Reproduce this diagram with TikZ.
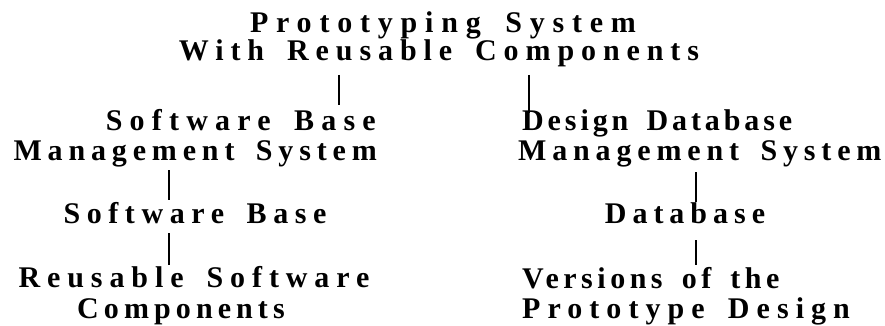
\documentclass[tikz,border=0pt]{standalone}
\usepackage{fontspec}
\newfontfamily\diagfont[WordSpace=1.6]{Liberation Serif}
\begin{document}
\begin{tikzpicture}[x=1pt,y=-1pt,
  txt/.style={inner sep=0pt, font=\diagfont\bfseries\fontsize{30}{33}\selectfont\addfontfeatures{LetterSpace=#1}},
  txt/.default=18,
  conn/.style={line width=1.3pt}]
\useasboundingbox (0,0) rectangle (885,326);
% title
\node[txt=26, anchor=base] (t1) at (443,33) {Prototyping System};
\node[txt=23, anchor=base] (t2) at (439,61) {With Reusable Components};
% left column
\node[txt=24, anchor=base east] (l1a) at (376,130) {Software Base};
\node[txt=19.5, anchor=base east] (l1b) at (377,160) {Management System};
\node[txt=22, anchor=base] (l2) at (195,223) {Software Base};
\node[txt=23, anchor=base] (l3a) at (194,287) {Reusable Software};
\node[txt=17, anchor=base] (l3b) at (181,318) {Components};
% right column
\node[txt=13, anchor=base west] (r1a) at (522,130) {Design Database};
\node[txt=19.5, anchor=base west] (r1b) at (518,160) {Management System};
\node[txt=20, anchor=base] (r2) at (685,223) {Database};
\node[txt=15, anchor=base west] (r3a) at (522,288) {Versions of the};
\node[txt=23.5, anchor=base west] (r3b) at (522,318) {Prototype Design};
% x positions of connectors
\coordinate (xa) at (339,0);
\coordinate (xb) at (529,0);
\coordinate (xc) at (169,0);
\coordinate (xd) at (696,0);
% connectors
\draw[conn] ([yshift=-14pt]t2.base -| xa) -- ([yshift=25pt]l1a.base -| xa);
\draw[conn] ([yshift=-14pt]t2.base -| xb) -- ([yshift=17pt]r1a.base -| xb);
\draw[conn] ([yshift=-10pt]l1b.base -| xc) -- ([yshift=23pt]l2.base -| xc);
\draw[conn] ([yshift=-10pt]l2.base -| xc) -- ([yshift=22pt]l3a.base -| xc);
\draw[conn] ([yshift=-12pt]r1b.base -| xd) -- ([yshift=21pt]r2.base -| xd);
\draw[conn] ([yshift=-17pt]r2.base -| xd) -- ([yshift=23pt]r3a.base -| xd);
\end{tikzpicture}
\end{document}
